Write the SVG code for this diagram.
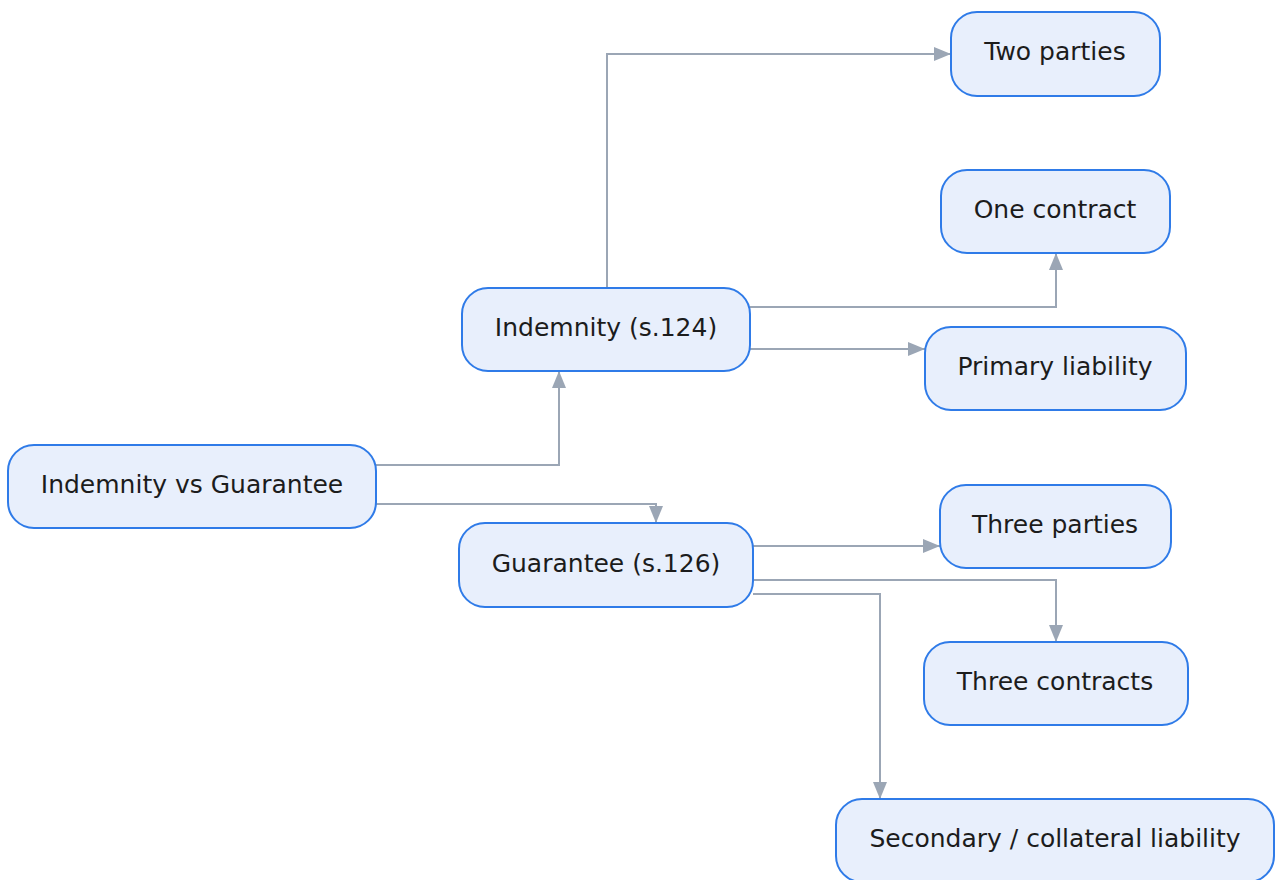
<svg xmlns="http://www.w3.org/2000/svg" width="1275" height="880" viewBox="0 0 1275 880">
<style>
.node rect{fill:#e8effc;stroke:#2f7be8;stroke-width:2}
.node text{font-family:"DejaVu Sans",sans-serif;font-size:25px;fill:#1c1c1c;text-anchor:middle;dominant-baseline:central}
.edges path{fill:none;stroke:#9ba6b5;stroke-width:2}
</style>
<defs>
<marker id="ah" viewBox="0 0 17 14" refX="17" refY="7" markerWidth="17" markerHeight="14" markerUnits="userSpaceOnUse" orient="auto">
<path d="M0,0 L17,7 L0,14 Z" fill="#9ba6b5"/>
</marker>
</defs>
<rect width="1275" height="880" fill="#ffffff"/>
<g class="edges">
<path d="M376,465 H559 V371" marker-end="url(#ah)"/>
<path d="M376,504 H656 V523" marker-end="url(#ah)"/>
<path d="M607,288 V54 H951" marker-end="url(#ah)"/>
<path d="M750,307 H1056 V253" marker-end="url(#ah)"/>
<path d="M750,349 H925" marker-end="url(#ah)"/>
<path d="M753,546 H940" marker-end="url(#ah)"/>
<path d="M753,580 H1056 V642" marker-end="url(#ah)"/>
<path d="M753,594 H880 V799" marker-end="url(#ah)"/>
</g>
<g id="root" class="node"><rect x="8" y="445" width="368" height="83" rx="26"/><text x="192" y="484">Indemnity vs Guarantee</text></g>
<g id="indemnity" class="node"><rect x="462" y="288" width="288" height="83" rx="26"/><text x="606" y="327">Indemnity (s.124)</text></g>
<g id="guarantee" class="node"><rect x="459" y="523" width="294" height="84" rx="26"/><text x="606" y="563">Guarantee (s.126)</text></g>
<g id="two-parties" class="node"><rect x="951" y="12" width="209" height="84" rx="26"/><text x="1055" y="51">Two parties</text></g>
<g id="one-contract" class="node"><rect x="941" y="170" width="229" height="83" rx="26"/><text x="1055" y="209">One contract</text></g>
<g id="primary" class="node"><rect x="925" y="327" width="261" height="83" rx="26"/><text x="1055" y="366">Primary liability</text></g>
<g id="three-parties" class="node"><rect x="940" y="485" width="231" height="83" rx="26"/><text x="1055" y="524">Three parties</text></g>
<g id="three-contracts" class="node"><rect x="924" y="642" width="264" height="83" rx="26"/><text x="1055" y="681">Three contracts</text></g>
<g id="secondary" class="node"><rect x="836" y="799" width="438" height="83" rx="26"/><text x="1055" y="838">Secondary / collateral liability</text></g>
</svg>
